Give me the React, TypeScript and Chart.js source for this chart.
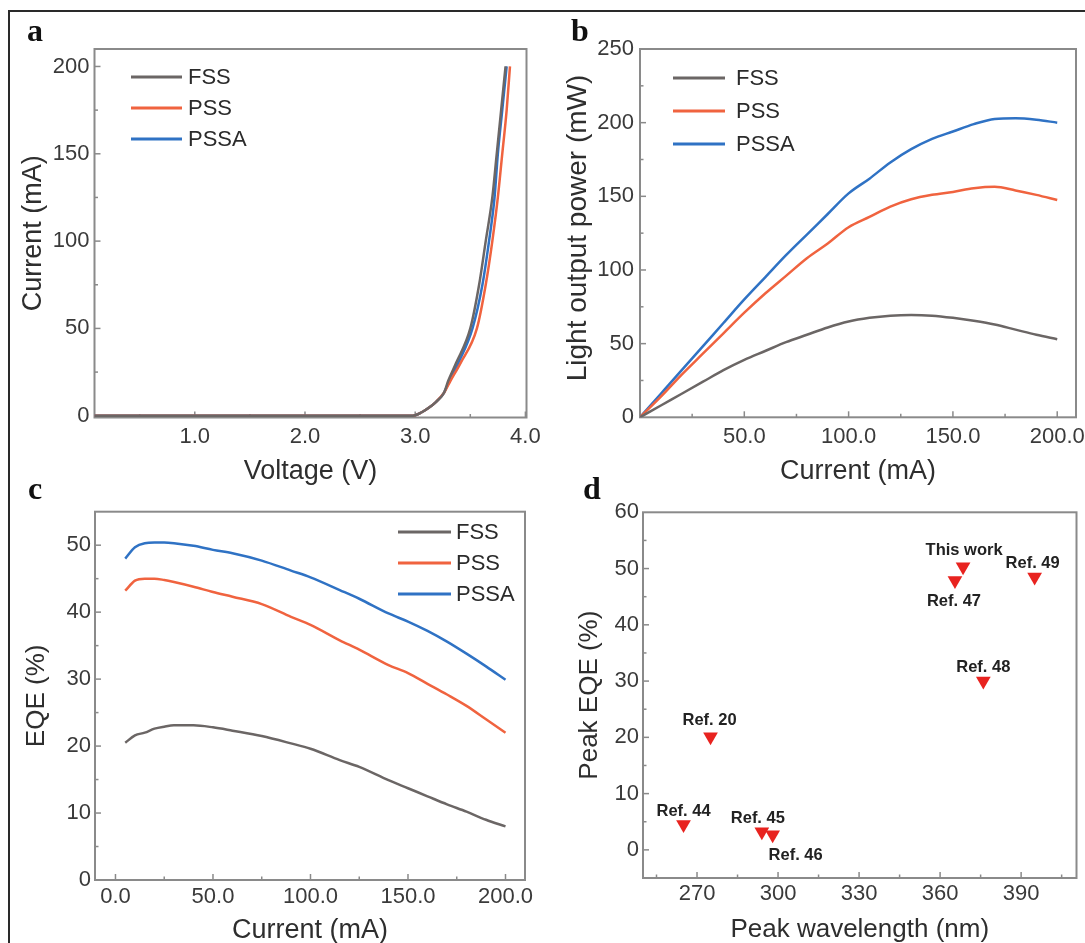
import React, { useEffect, useRef } from 'react';
import { Chart, registerables } from 'chart.js';

Chart.register(...registerables);

// ---------- shared series ----------
const SERIES_NAMES = ['FSS', 'PSS', 'PSSA'];
const SERIES_COLORS = ['#6b6665', '#f0633f', '#2f72c4'];

// ---------- panel a: I-V ----------
const ivCurrent = [0, 0, 2, 4.4, 8, 13, 20, 30, 50, 75, 100, 125, 150, 175, 200];
const ivVoltageFSS = [0.09, 2.98, 3.06, 3.12, 3.19, 3.26, 3.3, 3.37, 3.5, 3.58, 3.64, 3.7, 3.74, 3.78, 3.82];
const ivVoltagePSS = [0.09, 2.98, 3.06, 3.12, 3.19, 3.26, 3.32, 3.41, 3.56, 3.64, 3.7, 3.75, 3.79, 3.83, 3.86];
const ivVoltagePSSA = [0.09, 2.98, 3.06, 3.12, 3.19, 3.26, 3.31, 3.39, 3.52, 3.61, 3.67, 3.72, 3.75, 3.79, 3.83];
const ivXTicks = [1, 2, 3, 4];
const ivXMinor = [0.5, 1.5, 2.5, 3.5];
const ivYTicks = [0, 50, 100, 150, 200];
const ivYMinor = [25, 75, 125, 175];

// ---------- panel b: L-I ----------
const lopCurrent = [0, 10, 20, 30, 40, 50, 60, 70, 80, 90, 100, 110, 120, 130, 140, 150, 160, 170, 180, 190, 200];
const lopFSS = [0, 8, 16, 24, 32, 39, 45, 51, 56, 61, 65, 67.5, 69, 69.5, 69, 67.5, 65.5, 63, 59.5, 56, 53];
const lopPSS = [0, 14, 29, 43, 57, 71, 84, 96, 108, 118, 129, 136, 143, 148, 151, 153, 155.5, 156.5, 154, 151, 147.5];
const lopPSSA = [0, 16, 32, 48, 64, 80, 95, 110, 124, 138, 152, 162, 173, 182, 189, 194, 199, 202.5, 203, 202, 200];
const lopXTicks = [50, 100, 150, 200];
const lopXMinor = [25, 75, 125, 175];
const lopYTicks = [0, 50, 100, 150, 200, 250];
const lopYMinor = [25, 75, 125, 175, 225];

// ---------- panel c: EQE ----------
const eqeCurrent = [5, 10, 15, 20, 25, 30, 40, 50, 60, 75, 90, 100, 115, 125, 140, 150, 160, 170, 180, 190, 200];
const eqeFSS = [20.5, 21.6, 22.0, 22.6, 22.9, 23.1, 23.1, 22.8, 22.3, 21.5, 20.4, 19.6, 17.9, 16.9, 14.9, 13.7, 12.5, 11.3, 10.2, 9.0, 8.0];
const eqePSS = [43.2, 44.7, 45.0, 45.0, 44.8, 44.5, 43.8, 43.0, 42.3, 41.2, 39.3, 38.1, 35.8, 34.4, 32.1, 30.9, 29.3, 27.7, 26.0, 24.0, 22.0];
const eqePSSA = [48.0, 49.7, 50.3, 50.4, 50.4, 50.3, 49.9, 49.3, 48.8, 47.7, 46.2, 45.2, 43.3, 42.0, 39.8, 38.6, 37.2, 35.6, 33.8, 31.9, 29.9];
const eqeXTicks = [0, 50, 100, 150, 200];
const eqeXMinor = [25, 75, 125, 175];
const eqeYTicks = [0, 10, 20, 30, 40, 50];
const eqeYMinor = [5, 15, 25, 35, 45];

// ---------- panel d: comparison ----------
const refNames = ['This work', 'Ref. 47', 'Ref. 49', 'Ref. 48', 'Ref. 20', 'Ref. 44', 'Ref. 45', 'Ref. 46'];
const refWavelength = [368.5, 365.5, 395, 376, 275, 265, 294, 298];
const refPeakEQE = [50.3, 47.9, 48.5, 30.0, 20.1, 4.5, 3.2, 2.7];
const cmpXTicks = [270, 300, 330, 360, 390];
const cmpXMinor = [255, 285, 315, 345, 375, 405];
const cmpYTicks = [0, 10, 20, 30, 40, 50, 60];
const cmpYMinor = [-5, 5, 15, 25, 35, 45, 55];

// ---------- styles ----------
const FONT = "'Liberation Sans', Arial, sans-serif";
const SERIF = "'Liberation Serif', 'DejaVu Serif', serif";
const TICK_COLOR = '#3a3a3a';
const TITLE_COLOR = '#2e2e2e';
const FRAME_COLOR = '#8a8a8a';
const MARKER_COLOR = '#e8231f';
// label placement (pixel offsets from marker centre)
const refLabelOffsets = [[1, -16], [-1, 21], [-2, -14], [0, -14], [-1, -16], [0, -13], [-4, -13], [23, 21]];

type Box = { left: number; top: number; width: number; height: number };

function axis(o: {
  axis: 'x' | 'y'; min: number; max: number; ticks: number[]; fmt: (v: number) => string;
  title: string; titlePad: number; tickPad: number; size: number; titleSize?: number; showTitle?: boolean;
}) {
  return {
    type: 'linear',
    position: o.axis === 'x' ? 'bottom' : 'left',
    min: o.min,
    max: o.max,
    bounds: 'data',
    grid: { display: false, drawTicks: false },
    border: { display: false },
    ticks: {
      autoSkip: false,
      maxRotation: 0,
      minRotation: 0,
      padding: o.tickPad,
      color: TICK_COLOR,
      font: { family: FONT, size: 22 },
      callback: (v: any) => o.fmt(Number(v)),
    },
    afterBuildTicks: (s: any) => {
      s.ticks = o.ticks.map((v) => ({ value: v }));
    },
    afterFit: (s: any) => {
      if (o.axis === 'x') s.height = o.size;
      else s.width = o.size;
      s.paddingLeft = 0;
      s.paddingRight = 0;
      s.paddingTop = 0;
      s.paddingBottom = 0;
    },
    title: {
      display: o.showTitle !== false,
      text: o.title,
      color: TITLE_COLOR,
      font: { family: FONT, size: o.titleSize ?? 26 },
      padding: o.axis === 'x' ? { top: 0, bottom: o.titlePad } : { top: o.titlePad, bottom: 0 },
    },
  };
}

function framePlugin(t: { xMajor: number[]; xMinor: number[]; yMajor: number[]; yMinor: number[] }) {
  return {
    id: 'frameTicks',
    beforeDatasetsDraw(chart: any) {
      const { ctx, chartArea: a, scales } = chart;
      const xs = scales.x;
      const ys = scales.y;
      ctx.save();
      ctx.strokeStyle = FRAME_COLOR;
      ctx.lineWidth = 1.5;
      const tick = (vals: number[], len: number, isX: boolean) => {
        vals.forEach((v) => {
          ctx.beginPath();
          if (isX) {
            const px = xs.getPixelForValue(v);
            if (px < a.left + 1 || px > a.right - 1) return;
            ctx.moveTo(px, a.bottom);
            ctx.lineTo(px, a.bottom - len);
          } else {
            const py = ys.getPixelForValue(v);
            if (py < a.top + 1 || py > a.bottom - 1) return;
            ctx.moveTo(a.left, py);
            ctx.lineTo(a.left + len, py);
          }
          ctx.stroke();
        });
      };
      tick(t.xMajor, 6, true);
      tick(t.xMinor, 3.5, true);
      tick(t.yMajor, 6, false);
      tick(t.yMinor, 3.5, false);
      ctx.lineWidth = 2;
      ctx.strokeRect(a.left, a.top, a.right - a.left, a.bottom - a.top);
      ctx.restore();
    },
  };
}

function letterPlugin(box: Box, letter: string, x: number, y: number) {
  return {
    id: 'panelLetter',
    afterDraw(chart: any) {
      const { ctx } = chart;
      ctx.save();
      ctx.fillStyle = '#111';
      ctx.font = `bold 32px ${SERIF}`;
      ctx.textAlign = 'left';
      ctx.textBaseline = 'alphabetic';
      ctx.fillText(letter, x - box.left, y - box.top);
      ctx.restore();
    },
  };
}

// vertical title drawn at a given page position (used where the title is not centred on the axis)
function sideTitlePlugin(box: Box, text: string, cx: number, cy: number, size: number) {
  return {
    id: 'sideTitle',
    afterDraw(chart: any) {
      const { ctx } = chart;
      ctx.save();
      ctx.translate(cx - box.left, cy - box.top);
      ctx.rotate(-Math.PI / 2);
      ctx.fillStyle = TITLE_COLOR;
      ctx.font = `${size}px ${FONT}`;
      ctx.textAlign = 'center';
      ctx.textBaseline = 'middle';
      ctx.fillText(text, 0, 0);
      ctx.restore();
    },
  };
}

function legendPlugin(box: Box, lg: { x0: number; x1: number; tx: number; rows: number[] }) {
  return {
    id: 'insideLegend',
    afterDraw(chart: any) {
      const { ctx } = chart;
      ctx.save();
      ctx.font = `22px ${FONT}`;
      ctx.textBaseline = 'middle';
      ctx.textAlign = 'left';
      chart.data.datasets.forEach((ds: any, i: number) => {
        const y = lg.rows[i] - box.top;
        ctx.strokeStyle = ds.borderColor;
        ctx.lineWidth = 3;
        ctx.beginPath();
        ctx.moveTo(lg.x0 - box.left, y);
        ctx.lineTo(lg.x1 - box.left, y);
        ctx.stroke();
        ctx.fillStyle = '#2b2b2b';
        ctx.fillText(ds.label, lg.tx - box.left, y + 1);
      });
      ctx.restore();
    },
  };
}

function pointLabelPlugin() {
  return {
    id: 'pointLabels',
    afterDatasetsDraw(chart: any) {
      const { ctx } = chart;
      const meta = chart.getDatasetMeta(0);
      ctx.save();
      ctx.font = `bold 16.5px ${FONT}`;
      ctx.fillStyle = '#222';
      ctx.textAlign = 'center';
      ctx.textBaseline = 'middle';
      meta.data.forEach((el: any, i: number) => {
        const [dx, dy] = refLabelOffsets[i];
        ctx.fillText(refNames[i], el.x + dx, el.y + dy);
      });
      ctx.restore();
    },
  };
}

function lineDatasets(xs: number[][], ys: number[][]) {
  return SERIES_NAMES.map((name, i) => ({
    label: name,
    data: xs[i].map((x, j) => ({ x, y: ys[i][j] })),
    borderColor: SERIES_COLORS[i],
    backgroundColor: SERIES_COLORS[i],
    borderWidth: 2.5,
    pointRadius: 0,
    fill: false,
    cubicInterpolationMode: 'monotone',
  }));
}

function baseOptions(box: Box, area: { L: number; T: number; R: number; B: number }) {
  return {
    responsive: false,
    maintainAspectRatio: false,
    animation: false,
    events: [],
    layout: {
      padding: {
        left: 0,
        top: area.T - box.top,
        right: box.left + box.width - area.R,
        bottom: 0,
      },
    },
    plugins: { legend: { display: false }, tooltip: { enabled: false }, title: { display: false } },
  };
}

const fmt1 = (v: number) => v.toFixed(1);
const fmt0 = (v: number) => String(v);

const BOX_A: Box = { left: 0, top: 0, width: 560, height: 500 };
const BOX_B: Box = { left: 540, top: 0, width: 545, height: 500 };
const BOX_C: Box = { left: 0, top: 470, width: 560, height: 500 };
const BOX_D: Box = { left: 540, top: 470, width: 545, height: 500 };

function configA() {
  const box = BOX_A;
  const area = { L: 94.5, T: 49, R: 526.5, B: 417.5 };
  return {
    type: 'line',
    data: {
      datasets: lineDatasets(
        [ivVoltageFSS, ivVoltagePSS, ivVoltagePSSA],
        [ivCurrent, ivCurrent, ivCurrent],
      ),
    },
    options: {
      ...baseOptions(box, area),
      scales: {
        x: axis({ axis: 'x', min: 0.09, max: 4.01, ticks: ivXTicks, fmt: fmt1, title: 'Voltage (V)', titlePad: 11.8, tickPad: 6, size: box.top + box.height - area.B, titleSize: 27 }),
        y: axis({ axis: 'y', min: -1, max: 210, ticks: ivYTicks, fmt: fmt0, title: 'Current (mA)', titlePad: 17.8, tickPad: 5, size: area.L - box.left, titleSize: 27 }),
      },
    },
    plugins: [
      framePlugin({ xMajor: ivXTicks, xMinor: ivXMinor, yMajor: ivYTicks, yMinor: ivYMinor }),
      legendPlugin(box, { x0: 131, x1: 182, tx: 188, rows: [77, 108, 139] }),
      letterPlugin(box, 'a', 27, 41),
    ],
  };
}

function configB() {
  const box = BOX_B;
  const area = { L: 640, T: 49, R: 1076, B: 417.3 };
  const cur = [lopCurrent, lopCurrent, lopCurrent];
  return {
    type: 'line',
    data: { datasets: lineDatasets(cur, [lopFSS, lopPSS, lopPSSA]) },
    options: {
      ...baseOptions(box, area),
      scales: {
        x: axis({ axis: 'x', min: 0, max: 209, ticks: lopXTicks, fmt: fmt1, title: 'Current (mA)', titlePad: 11.8, tickPad: 6, size: box.top + box.height - area.B, titleSize: 27 }),
        y: axis({ axis: 'y', min: 0, max: 250, ticks: lopYTicks, fmt: fmt0, title: 'Light output power (mW)', titlePad: 22, tickPad: 6, size: area.L - box.left, showTitle: false }),
      },
    },
    plugins: [
      framePlugin({ xMajor: lopXTicks, xMinor: lopXMinor, yMajor: lopYTicks, yMinor: lopYMinor }),
      legendPlugin(box, { x0: 673, x1: 725, tx: 736, rows: [78, 111, 144] }),
      sideTitlePlugin(box, 'Light output power (mW)', 578, 228, 28),
      letterPlugin(box, 'b', 571, 41),
    ],
  };
}

function configC() {
  const box = BOX_C;
  const area = { L: 95, T: 511.7, R: 525, B: 880 };
  const cur = [eqeCurrent, eqeCurrent, eqeCurrent];
  return {
    type: 'line',
    data: { datasets: lineDatasets(cur, [eqeFSS, eqePSS, eqePSSA]) },
    options: {
      ...baseOptions(box, area),
      scales: {
        x: axis({ axis: 'x', min: -10.5, max: 210, ticks: eqeXTicks, fmt: fmt1, title: 'Current (mA)', titlePad: 22.8, tickPad: 4, size: box.top + box.height - area.B, titleSize: 27 }),
        y: axis({ axis: 'y', min: 0, max: 55, ticks: eqeYTicks, fmt: fmt0, title: 'EQE (%)', titlePad: 21.4, tickPad: 4, size: area.L - box.left }),
      },
    },
    plugins: [
      framePlugin({ xMajor: eqeXTicks, xMinor: eqeXMinor, yMajor: eqeYTicks, yMinor: eqeYMinor }),
      legendPlugin(box, { x0: 398, x1: 451, tx: 456, rows: [532, 563, 594] }),
      letterPlugin(box, 'c', 28, 499),
    ],
  };
}

function configD() {
  const box = BOX_D;
  const area = { L: 643, T: 512.3, R: 1076.7, B: 878 };
  return {
    type: 'scatter',
    data: {
      datasets: [
        {
          label: 'Peak EQE',
          data: refWavelength.map((x, i) => ({ x, y: refPeakEQE[i] })),
          pointStyle: 'triangle',
          pointRotation: 180,
          pointRadius: 8.5,
          pointBackgroundColor: MARKER_COLOR,
          pointBorderColor: MARKER_COLOR,
          pointBorderWidth: 0,
          showLine: false,
        },
      ],
    },
    options: {
      ...baseOptions(box, area),
      scales: {
        x: axis({ axis: 'x', min: 250, max: 410.5, ticks: cmpXTicks, fmt: fmt0, title: 'Peak wavelength (nm)', titlePad: 24.4, tickPad: 3, size: box.top + box.height - area.B }),
        y: axis({ axis: 'y', min: -5, max: 60, ticks: cmpYTicks, fmt: fmt0, title: 'Peak EQE (%)', titlePad: 34.4, tickPad: 4, size: area.L - box.left }),
      },
    },
    plugins: [
      framePlugin({ xMajor: cmpXTicks, xMinor: cmpXMinor, yMajor: cmpYTicks, yMinor: cmpYMinor }),
      pointLabelPlugin(),
      letterPlugin(box, 'd', 583, 499),
    ],
  };
}

const PANELS: { box: Box; make: () => any }[] = [
  { box: BOX_A, make: configA },
  { box: BOX_B, make: configB },
  { box: BOX_C, make: configC },
  { box: BOX_D, make: configD },
];

export default function App() {
  const canvases = useRef<(HTMLCanvasElement | null)[]>([]);

  useEffect(() => {
    const charts = PANELS.map((p, i) => new Chart(canvases.current[i] as HTMLCanvasElement, p.make()));
    return () => charts.forEach((c) => c.destroy());
  }, []);

  return (
    <div
      style={{
        position: 'fixed',
        left: 0,
        top: 0,
        width: 1085,
        height: 943,
        overflow: 'hidden',
        background: '#ffffff',
      }}
    >
      <div
        style={{
          position: 'absolute',
          left: 8,
          top: 10,
          width: 1200,
          height: 1200,
          borderLeft: '2px solid #2a2a2a',
          borderTop: '2px solid #2a2a2a',
        }}
      />
      {PANELS.map((p, i) => (
        <canvas
          key={i}
          ref={(el) => {
            canvases.current[i] = el;
          }}
          width={p.box.width}
          height={p.box.height}
          style={{ position: 'absolute', left: p.box.left, top: p.box.top, width: p.box.width, height: p.box.height }}
        />
      ))}
    </div>
  );
}
